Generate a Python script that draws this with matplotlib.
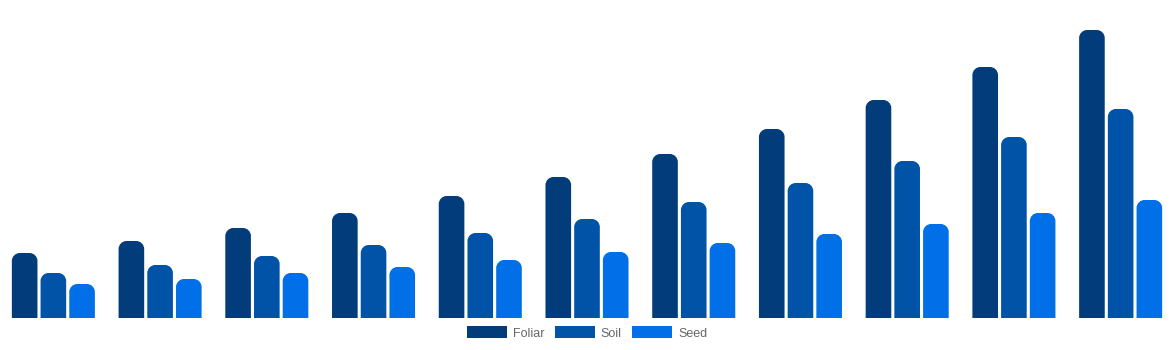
import matplotlib
matplotlib.use("Agg")
import matplotlib.pyplot as plt
from matplotlib.path import Path
from matplotlib.patches import PathPatch, Patch

plt.rcParams["font.family"] = ["Liberation Sans", "DejaVu Sans"]

# values (in pixels above the baseline)
categories = list(range(1, 12))
foliar = [65, 77, 90, 105, 122, 141, 164, 189, 218, 251, 288]
soil = [45, 53, 62, 73, 85, 99, 116, 135, 157, 181, 209]
seed = [34, 39, 45, 51, 58, 66, 75, 84, 94, 105, 118]

series = [("Foliar", foliar, "#023c7a"),
          ("Soil", soil, "#0053a6"),
          ("Seed", seed, "#006fe8")]

W, H = 1174, 350
fig = plt.figure(figsize=(W / 100, H / 100), dpi=100)
ax = fig.add_axes([0, 32 / H, 1, 318 / H])
ax.set_xlim(0, len(categories))
ax.set_ylim(0, 318)
ax.axis("off")

px_x = len(categories) / W  # data units per pixel in x
rx, ry = 8 * px_x, 8.0
k = 0.5523


def rounded_bar(x0, x1, h):
    r_y = min(ry, h)
    verts = [(x0, 0), (x0, h - r_y),
             (x0, h - r_y + k * r_y), (x0 + rx - k * rx, h), (x0 + rx, h),
             (x1 - rx, h),
             (x1 - rx + k * rx, h), (x1, h - r_y + k * r_y), (x1, h - r_y),
             (x1, 0), (x0, 0)]
    codes = [Path.MOVETO, Path.LINETO,
             Path.CURVE4, Path.CURVE4, Path.CURVE4,
             Path.LINETO,
             Path.CURVE4, Path.CURVE4, Path.CURVE4,
             Path.LINETO, Path.CLOSEPOLY]
    return Path(verts, codes)


offsets = [-0.269, 0.0, 0.269]
width = 0.240
for (name, vals, color), off in zip(series, offsets):
    for i, v in enumerate(vals):
        c = i + 0.5 + off
        p = PathPatch(rounded_bar(c - width / 2, c + width / 2, v),
                      facecolor=color, edgecolor="none")
        ax.add_patch(p)

handles = [Patch(facecolor=c, edgecolor="none", label=n) for n, _, c in series]
fig.legend(handles=handles, loc="center", bbox_to_anchor=(0.5, 1 - 333 / H),
           ncol=3, frameon=False, fontsize=9, labelcolor="#666666",
           handlelength=3.2, handleheight=1.05, handletextpad=0.5,
           columnspacing=0.8, borderpad=0)

fig.savefig("out.png", dpi=100)
